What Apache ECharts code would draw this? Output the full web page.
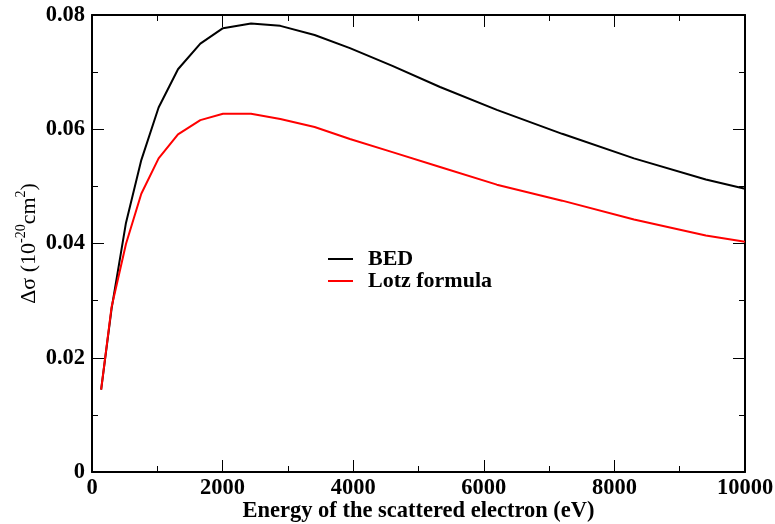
<!DOCTYPE html>
<html>
<head>
<meta charset="utf-8">
<script src="https://cdn.jsdelivr.net/npm/echarts@6/dist/echarts.min.js"></script>
<style>
html,body{margin:0;padding:0;background:#fff;}
#chart{width:775px;height:524px;}
</style>
</head>
<body>
<div id="chart"></div>
<script>
const energies = [140, 300, 520, 755, 1020, 1317, 1659, 2006, 2435, 2884, 3409, 3950, 4600, 5330, 6200, 7200, 8300, 9400, 10000];
const bedValues = [0.0144, 0.0286, 0.0436, 0.0546, 0.0638, 0.0705, 0.0750, 0.0777, 0.0785, 0.0781, 0.0765, 0.0742, 0.0711, 0.0674, 0.0634, 0.0592, 0.0549, 0.0512, 0.0496];
const lotzValues = [0.0144, 0.0289, 0.0399, 0.0487, 0.0549, 0.0591, 0.0616, 0.0627, 0.0627, 0.0618, 0.0604, 0.0583, 0.0560, 0.0534, 0.0503, 0.0475, 0.0442, 0.0414, 0.0403];
const seriesNames = ['BED', 'Lotz formula'];
const xTitle = 'Energy of the scattered electron (eV)';

const FONT = 'Liberation Serif';
const chart = echarts.init(document.getElementById('chart'), null, {renderer: 'canvas'});

function pairs(xs, ys) { return xs.map((x, i) => [x, ys[i]]); }

const tickCommon = {
  axisLine: {show: true, onZero: false, lineStyle: {color: '#000', width: 2}},
  axisTick: {show: true, inside: true, length: 12, lineStyle: {color: '#000', width: 1}},
  minorTick: {show: true, splitNumber: 2, length: 6, lineStyle: {color: '#000', width: 1}},
  splitLine: {show: false},
  minorSplitLine: {show: false}
};

chart.setOption({
  animation: false,
  backgroundColor: '#fff',
  grid: {left: 92, right: 30, top: 15, bottom: 52, containLabel: false, outerBoundsMode: 'none'},
  legend: {
    orient: 'vertical',
    left: 328,
    top: 248,
    padding: 0,
    itemWidth: 25,
    itemHeight: 2,
    itemGap: 0,
    icon: 'rect',
    textStyle: {fontFamily: FONT, fontWeight: 'bold', fontSize: 22, color: '#000', padding: [0, 0, 0, 10]},
    data: seriesNames
  },
  xAxis: [
    Object.assign({
      type: 'value', position: 'bottom', min: 0, max: 10000, interval: 2000,
      name: xTitle, nameLocation: 'middle', nameGap: 28, nameMoveOverlap: false,
      nameTextStyle: {fontFamily: FONT, fontWeight: 'bold', fontSize: 22.5, color: '#000'},
      axisLabel: {show: true, margin: 5, fontFamily: FONT, fontWeight: 'bold', fontSize: 22.5, color: '#000',
        formatter: v => String(v)}
    }, tickCommon),
    Object.assign({
      type: 'value', position: 'top', min: 0, max: 10000, interval: 2000,
      axisLabel: {show: false}
    }, tickCommon)
  ],
  yAxis: [
    Object.assign({
      type: 'value', position: 'left', min: 0, max: 0.08, interval: 0.02,
      name: '{a|Δσ (10}{s|-20}{a|cm}{s|2}{a|)}', nameLocation: 'middle', nameGap: 52, nameRotate: 90, nameMoveOverlap: false,
      nameTextStyle: {
        fontFamily: FONT, fontSize: 22, color: '#000',
        rich: {
          a: {fontFamily: FONT, fontSize: 22, color: '#000', lineHeight: 26, verticalAlign: 'bottom'},
          s: {fontFamily: FONT, fontSize: 14, color: '#000', lineHeight: 26, verticalAlign: 'top', padding: [0, 0, 9, 0]}
        }
      },
      axisLabel: {
        show: true, margin: 7, fontFamily: FONT, fontWeight: 'bold', fontSize: 22.5, color: '#000',
        formatter: v => (v === 0 ? '0' : v.toFixed(2))
      }
    }, tickCommon),
    Object.assign({
      type: 'value', position: 'right', min: 0, max: 0.08, interval: 0.02,
      axisLabel: {show: false}
    }, tickCommon)
  ],
  series: [
    {
      name: seriesNames[0], type: 'line', xAxisIndex: 0, yAxisIndex: 0,
      data: pairs(energies, bedValues), showSymbol: false, symbol: 'none', clip: true,
      lineStyle: {color: '#000', width: 2}, itemStyle: {color: '#000'}
    },
    {
      name: seriesNames[1], type: 'line', xAxisIndex: 0, yAxisIndex: 0,
      data: pairs(energies, lotzValues), showSymbol: false, symbol: 'none', clip: true,
      lineStyle: {color: '#ff0000', width: 2}, itemStyle: {color: '#ff0000'}
    }
  ]
});
</script>
</body>
</html>
